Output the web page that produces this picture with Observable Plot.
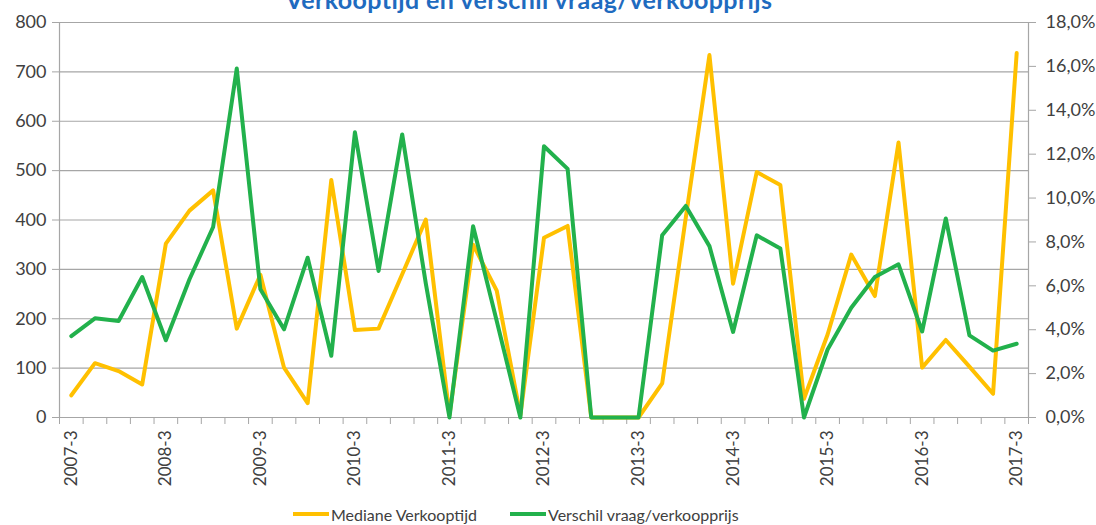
<!DOCTYPE html>
<html>
<head>
<meta charset="utf-8">
<script src="https://cdn.jsdelivr.net/npm/d3@7"></script>
<script src="https://cdn.jsdelivr.net/npm/@observablehq/plot@0.6"></script>
<style>
  html, body { margin: 0; padding: 0; background: #fff; }
  #wrap { position: relative; width: 1096px; height: 525px; overflow: hidden; font-family: Lato, "Open Sans", sans-serif; }
  #title { position: absolute; top: -13px; left: 0; width: 1058px; text-align: center; font-size: 25px; line-height: 25px; letter-spacing: 0.4px; font-weight: bold; color: #1F6BBF; white-space: nowrap; }
  #chart { position: absolute; top: 0; left: 0; }
  #legend { position: absolute; top: 503px; left: 0; width: 1096px; height: 22px; font-size: 16px; color: #404040; }
  .item { position: absolute; top: 0; display: flex; align-items: center; height: 22px; white-space: nowrap; }
  .sw { display: inline-block; width: 36px; height: 4px; margin-right: 2px; }
</style>
</head>
<body>
<div id="wrap">
  <div id="chart"></div>
  <div id="title">Verkooptijd en verschil vraag/verkoopprijs</div>
  <div id="legend"></div>
</div>
<script>
const quarters = [
  "2007-3","2007-4","2008-1","2008-2","2008-3","2008-4","2009-1","2009-2",
  "2009-3","2009-4","2010-1","2010-2","2010-3","2010-4","2011-1","2011-2",
  "2011-3","2011-4","2012-1","2012-2","2012-3","2012-4","2013-1","2013-2",
  "2013-3","2013-4","2014-1","2014-2","2014-3","2014-4","2015-1","2015-2",
  "2015-3","2015-4","2016-1","2016-2","2016-3","2016-4","2017-1","2017-2",
  "2017-3"
];
const medianeVerkooptijd = [
  45, 110, 94, 67, 352, 419, 460, 180,
  289, 101, 29, 481, 177, 180, 290, 401,
  5, 350, 257, 5, 364, 388, 0, 0,
  0, 69, 405, 734, 271, 497, 471, 38,
  168, 330, 246, 557, 101, 157, 103, 48,
  738
];
const verschilVraagVerkoopprijs = [
  3.71, 4.52, 4.40, 6.40, 3.52, 6.30, 8.68, 15.9,
  5.84, 4.02, 7.28, 2.81, 13.0, 6.68, 12.9, 6.1,
  0, 8.72, 4.4, 0, 12.36, 11.33, 0, 0,
  0, 8.30, 9.64, 7.81, 3.90, 8.30, 7.70, 0,
  3.10, 5.0, 6.40, 6.98, 3.92, 9.07, 3.74, 3.05,
  3.36
];
const leftTicks = [0, 100, 200, 300, 400, 500, 600, 700, 800];
const rightTicks = [0, 2, 4, 6, 8, 10, 12, 14, 16, 18];
const labelQuarters = ["2007-3","2008-3","2009-3","2010-3","2011-3","2012-3","2013-3","2014-3","2015-3","2016-3","2017-3"];
const seriesNames = ["Mediane Verkooptijd", "Verschil vraag/verkoopprijs"];
const colors = ["#FFC000", "#22B14C"];

const leftMax = 800, rightMax = 18;
const toLeft = p => p * leftMax / rightMax;

const yellow = medianeVerkooptijd.map((v, i) => ({i, v}));
const green = verschilVraagVerkoopprijs.map((p, i) => ({i, v: toLeft(p)}));
const boundaries = d3.range(quarters.length + 1).map(k => k - 0.5);
const labelIdx = labelQuarters.map(q => quarters.indexOf(q));

const grid = "#a6a6a6";
const txt = "#404040";

const chart = Plot.plot({
  width: 1096,
  height: 490,
  marginTop: 22,
  marginBottom: 73,
  marginLeft: 59,
  marginRight: 68,
  style: {fontFamily: "Lato, 'Open Sans', sans-serif", fontSize: "18px", color: txt, background: "#fff"},
  x: {type: "linear", domain: [-0.5, quarters.length - 0.5], axis: null},
  y: {domain: [0, leftMax], axis: null},
  marks: [
    Plot.gridY(leftTicks, {stroke: grid, strokeOpacity: 1, strokeWidth: 1.2}),
    Plot.ruleX([-0.5, quarters.length - 0.5], {y1: 0, y2: leftMax, stroke: grid, strokeWidth: 1.2}),
    Plot.axisY(leftTicks, {anchor: "left", tickSize: 7, tickPadding: 6, stroke: grid, fill: txt, label: null, fontSize: 18}),
    Plot.axisY(rightTicks.map(toLeft), {anchor: "right", tickSize: 7, tickPadding: 10, stroke: grid, fill: txt, label: null, fontSize: 18,
      tickFormat: v => (v * rightMax / leftMax).toFixed(1).replace(".", ",") + "%"}),
    Plot.axisX(boundaries, {anchor: "bottom", tickSize: 7, stroke: grid, tickFormat: () => "", label: null}),
    Plot.axisX(labelIdx, {anchor: "bottom", tickSize: 0, tickPadding: 13, tickRotate: -90, fill: txt, label: null, fontSize: 17,
      tickFormat: i => quarters[i]}),
    Plot.lineY(yellow, {x: "i", y: "v", stroke: colors[0], strokeWidth: 4, strokeLinejoin: "round", strokeLinecap: "round"}),
    Plot.lineY(green, {x: "i", y: "v", stroke: colors[1], strokeWidth: 4, strokeLinejoin: "round", strokeLinecap: "round"})
  ]
});
document.getElementById("chart").appendChild(chart);

const legend = document.getElementById("legend");
const lefts = [293, 510];
seriesNames.forEach((name, k) => {
  const it = document.createElement("div");
  it.className = "item";
  it.style.left = lefts[k] + "px";
  const sw = document.createElement("span");
  sw.className = "sw";
  sw.style.background = colors[k];
  it.appendChild(sw);
  it.appendChild(document.createTextNode(name));
  legend.appendChild(it);
});
</script>
</body>
</html>
